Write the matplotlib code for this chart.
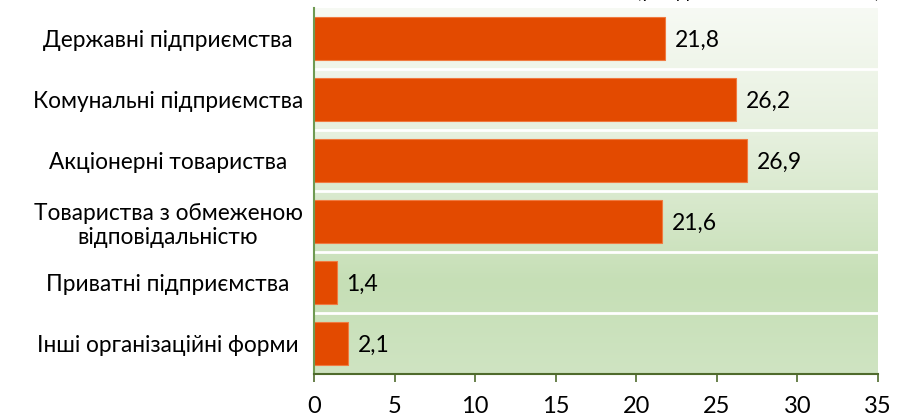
import matplotlib
matplotlib.use("Agg")
import matplotlib.pyplot as plt
import numpy as np
from matplotlib.colors import LinearSegmentedColormap

categories = [
    "Державні підприємства",
    "Комунальні підприємства",
    "Акціонерні товариства",
    "Товариства з обмеженою\nвідповідальністю",
    "Приватні підприємства",
    "Інші організаційні форми",
]
values = [21.8, 26.2, 26.9, 21.6, 1.4, 2.1]
value_labels = ["21,8", "26,2", "26,9", "21,6", "1,4", "2,1"]
xticks = [0, 5, 10, 15, 20, 25, 30, 35]
subtitle = "(у % до загальної кількості)"

plt.rcParams['font.family'] = ['Lato', 'DejaVu Sans']

fig = plt.figure(figsize=(9.10, 4.19), dpi=100)
ax = fig.add_axes([314/910, 1-374/419, (878-314)/910, (374-8)/419])

n = len(categories)
ypos = np.arange(n)

# background gradient
cmap = LinearSegmentedColormap.from_list(
    "bg", [(0.0, "#f7faf4"), (0.35, "#e6f0de"), (0.75, "#c6dfb6"), (1.0, "#cfe4c2")])
grad = np.linspace(0, 1, 256).reshape(-1, 1)
ax.imshow(grad, cmap=cmap, aspect='auto', extent=[0, 35, n - 0.5, -0.5],
          zorder=0, interpolation='bilinear')

for k in range(n - 1):
    ax.axhline(k + 0.5, color='white', lw=2, zorder=1)

ax.barh(ypos, values, height=0.69, color='#e34a00', edgecolor='#f07a40',
        linewidth=0.8, zorder=2)

for y, v, lab in zip(ypos, values, value_labels):
    ax.text(v + 0.6, y + 0.03, lab, va='center', ha='left', fontsize=16.5,
            color='black', zorder=3)

ax.set_xlim(0, 35)
ax.set_ylim(n - 0.5, -0.5)
ax.set_xticks(xticks)
ax.set_xticklabels([str(t) for t in xticks], fontsize=17)
ax.set_yticks(ypos)
ax.set_yticklabels(categories, fontsize=16.3, ha='center', linespacing=1.2)
ax.tick_params(axis='y', length=0, pad=105)
ax.tick_params(axis='x', length=6, width=1.2, color='#4f6b2c', direction='out', pad=10)

for s in ['top', 'right']:
    ax.spines[s].set_visible(False)
ax.spines['left'].set_color('#6f9a52')
ax.spines['left'].set_linewidth(1.5)
ax.spines['bottom'].set_color('#4f6b2c')
ax.spines['bottom'].set_linewidth(1.5)

fig.text(880/910, 1 + 2/419, subtitle, ha='right', va='baseline', fontsize=14)

fig.savefig("out.png", dpi=100)
